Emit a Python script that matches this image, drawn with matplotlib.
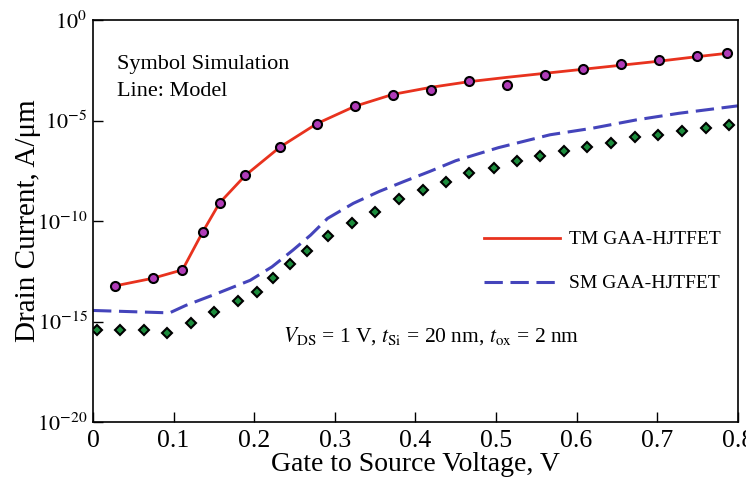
import matplotlib
matplotlib.use("Agg")
import matplotlib.pyplot as plt
import numpy as np

plt.rcParams["font.family"] = ["Liberation Serif", "DejaVu Serif"]
plt.rcParams["mathtext.fontset"] = "stix"

# TM GAA-HJTFET simulation (symbols), log10 of drain current
tm_sim_vgs = [0.027, 0.074, 0.111, 0.136, 0.157, 0.189, 0.232, 0.278, 0.325, 0.372,
              0.419, 0.466, 0.514, 0.561, 0.608, 0.655, 0.702, 0.750, 0.786]
tm_sim_log = [-13.23, -12.85, -12.43, -10.55, -9.10, -7.73, -6.32, -5.15, -4.29, -3.71,
              -3.48, -3.05, -3.23, -2.75, -2.43, -2.20, -1.97, -1.77, -1.66]

# TM model line
tm_mod_vgs = [0.027, 0.074, 0.111, 0.136, 0.157, 0.189, 0.232, 0.278, 0.325, 0.372,
              0.419, 0.466, 0.514, 0.561, 0.608, 0.655, 0.702, 0.750, 0.786]
tm_mod_log = [-13.23, -12.85, -12.43, -10.55, -9.10, -7.73, -6.32, -5.15, -4.29, -3.70,
              -3.35, -3.07, -2.85, -2.65, -2.45, -2.25, -2.05, -1.82, -1.66]

# SM GAA-HJTFET simulation (symbols)
sm_sim_vgs = [0.005, 0.033, 0.063, 0.092, 0.121, 0.150, 0.180, 0.203, 0.223, 0.244,
              0.266, 0.291, 0.321, 0.350, 0.380, 0.409, 0.438, 0.467, 0.497, 0.526,
              0.555, 0.584, 0.613, 0.643, 0.672, 0.701, 0.731, 0.760, 0.789]
sm_sim_log = [-15.43, -15.43, -15.43, -15.56, -15.08, -14.52, -13.98, -13.53, -12.83, -12.15,
              -11.50, -10.77, -10.10, -9.57, -8.92, -8.47, -8.07, -7.63, -7.35, -7.03,
              -6.76, -6.54, -6.30, -6.13, -5.84, -5.74, -5.51, -5.38, -5.22]

# SM model line
sm_mod_vgs = [0.0, 0.095, 0.115, 0.153, 0.195, 0.222, 0.248, 0.270, 0.291, 0.323,
              0.355, 0.386, 0.418, 0.450, 0.503, 0.567, 0.620, 0.674, 0.727, 0.800]
sm_mod_log = [-14.45, -14.57, -14.20, -13.62, -12.95, -12.28, -11.45, -10.70, -9.87, -9.12,
              -8.53, -8.03, -7.53, -7.00, -6.35, -5.71, -5.38, -4.97, -4.64, -4.27]

fig = plt.figure(figsize=(7.46, 4.8), dpi=100)
ax = fig.add_axes([0.1247, 0.1208, 0.8643, 0.8375])

ax.plot(tm_mod_vgs, 10 ** np.array(tm_mod_log), color="#e8321e", lw=2.0,
        label="TM GAA-HJTFET", zorder=2)
ax.plot(sm_mod_vgs, 10 ** np.array(sm_mod_log), color="#4444bb", lw=2.2,
        ls=(0, (6, 2.5)), label="SM GAA-HJTFET", zorder=2)
ax.plot(tm_sim_vgs, 10 ** np.array(tm_sim_log), "o", ms=6.5, mfc="#b03cb8",
        mec="black", mew=1.5, zorder=3)
ax.plot(sm_sim_vgs, 10 ** np.array(sm_sim_log), "D", ms=5.5, mfc="#1c8c3c",
        mec="black", mew=1.5, zorder=3)

ax.set_yscale("log")
ax.set_xlim(0, 0.8)
ax.set_ylim(1e-20, 1e0)
ax.set_xticks(np.arange(0, 0.81, 0.1))
ax.set_xticklabels(["0", "0.1", "0.2", "0.3", "0.4", "0.5", "0.6", "0.7", "0.8"])
ax.set_yticks([1e-20, 1e-15, 1e-10, 1e-5, 1e0])
ax.set_yticklabels([r"$10^{-20}$", r"$10^{-15}$", r"$10^{-10}$", r"$10^{-5}$", r"$10^{0}$"])
ax.minorticks_off()
ax.tick_params(direction="in", length=7, width=1, pad=5)
ax.tick_params(axis="x", labelsize=18.5, pad=6)
ax.tick_params(axis="y", labelsize=16, pad=4)
for s in ax.spines.values():
    s.set_linewidth(1.2)

ax.set_xlabel("Gate to Source Voltage, V", fontsize=20, labelpad=0)
ax.set_ylabel("Drain Current, A/μm", fontsize=21, labelpad=-3)

ax.text(0.037, 0.89, "Symbol Simulation", transform=ax.transAxes, fontsize=16, va="center")
ax.text(0.037, 0.822, "Line: Model", transform=ax.transAxes, fontsize=16, va="center")
ax.text(0.42, 10 ** -15.7, r"$V_{\rm DS}$ = 1 V, $t_{\rm Si}$ = 20 nm, $t_{\rm ox}$ = 2 nm",
        fontsize=15.5, ha="center", va="center")

ax.legend(loc="center left", bbox_to_anchor=(0.58, 0.399), frameon=False, fontsize=14,
          handlelength=3.86, labelspacing=1.35, handletextpad=0.5)

fig.savefig("out.png", dpi=100)
